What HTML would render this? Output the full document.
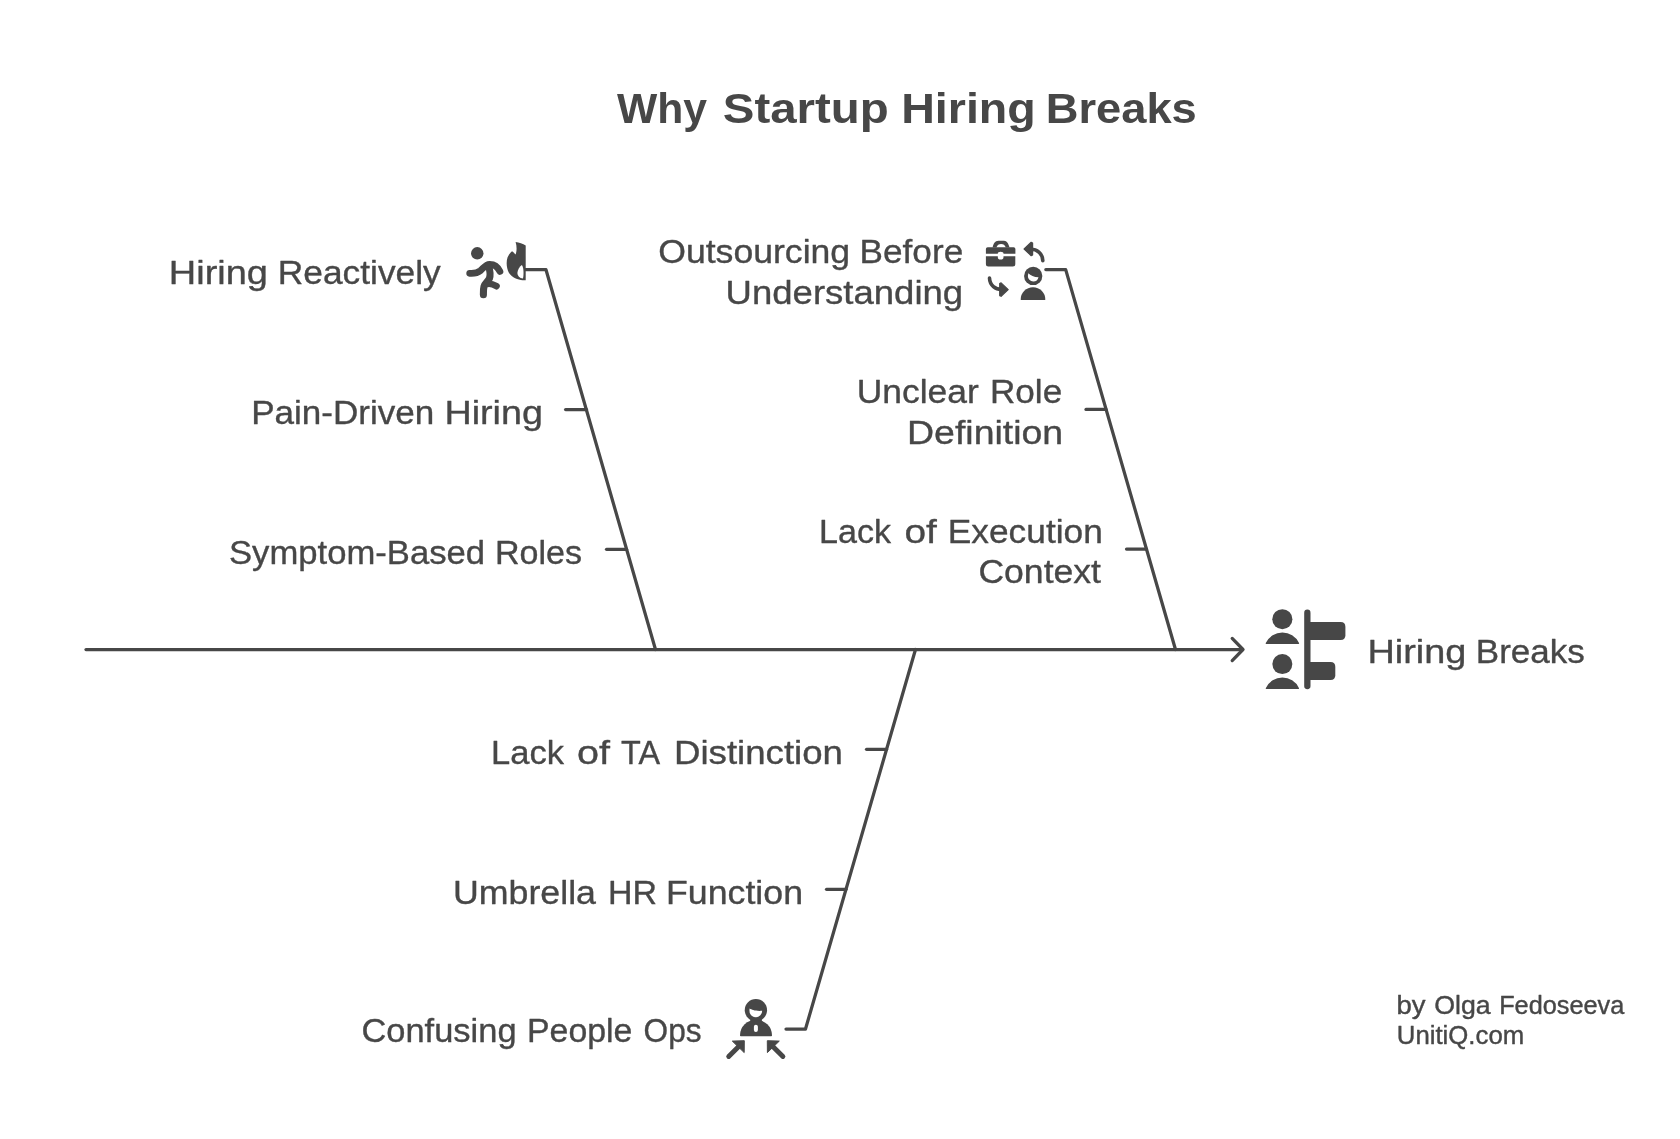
<!DOCTYPE html>
<html>
<head>
<meta charset="utf-8">
<title>Why Startup Hiring Breaks</title>
<style>
html,body{margin:0;padding:0;background:#ffffff;}
body{width:1680px;height:1139px;overflow:hidden;}
svg{display:block;will-change:transform;}
.t{font-family:"Liberation Sans",sans-serif;fill:#474747;}
.lbl{font-size:33px;stroke:#474747;stroke-width:0.35;stroke-linejoin:round;}
.ttl{font-size:42px;font-weight:bold;}
.sig{font-size:25px;stroke:#474747;stroke-width:0.4;stroke-linejoin:round;}
.ln{stroke:#474747;stroke-width:3.25;fill:none;stroke-linecap:round;stroke-linejoin:round;}
.ic{fill:#474747;}

</style>
</head>
<body>
<svg width="1680" height="1139" viewBox="0 0 1680 1139">
<!-- spine -->
<path class="ln" d="M86 649.5 H1242.5"/>
<path class="ln" d="M1232.2 638.4 L1243 649.5 L1232.2 660.6"/>
<!-- bones -->
<path class="ln" d="M525 269.7 H546 L655.5 649.5"/>
<path class="ln" d="M1045.8 269.6 H1065.7 L1175.5 649.5"/>
<path class="ln" d="M786 1029 H805.5 L915.5 649.5"/>
<!-- ticks -->
<path class="ln" d="M565.6 409.5 H586.5"/>
<path class="ln" d="M606.5 549.3 H626.5"/>
<path class="ln" d="M1086 409.4 H1106"/>
<path class="ln" d="M1126.5 549 H1146.5"/>
<path class="ln" d="M866.5 749.3 H886.5"/>
<path class="ln" d="M826.5 889.3 H846"/>
<!-- text -->
<text class="t ttl" x="617.00" y="122.5" textLength="90.00" lengthAdjust="spacingAndGlyphs">Why</text>
<text class="t ttl" x="722.80" y="122.5" textLength="166.00" lengthAdjust="spacingAndGlyphs">Startup</text>
<text class="t ttl" x="901.20" y="122.5" textLength="134.60" lengthAdjust="spacingAndGlyphs">Hiring</text>
<text class="t ttl" x="1045.80" y="122.5" textLength="151.00" lengthAdjust="spacingAndGlyphs">Breaks</text>
<text class="t lbl" x="168.80" y="283.9" textLength="99.20" lengthAdjust="spacingAndGlyphs">Hiring</text>
<text class="t lbl" x="277.80" y="283.9" textLength="163.00" lengthAdjust="spacingAndGlyphs">Reactively</text>
<text class="t lbl" x="251.20" y="423.6" textLength="183.20" lengthAdjust="spacingAndGlyphs">Pain-Driven</text>
<text class="t lbl" x="444.40" y="423.6" textLength="98.60" lengthAdjust="spacingAndGlyphs">Hiring</text>
<text class="t lbl" x="229.00" y="563.7" textLength="256.00" lengthAdjust="spacingAndGlyphs">Symptom-Based</text>
<text class="t lbl" x="495.00" y="563.7" textLength="87.00" lengthAdjust="spacingAndGlyphs">Roles</text>
<text class="t lbl" x="658.20" y="263.4" textLength="192.00" lengthAdjust="spacingAndGlyphs">Outsourcing</text>
<text class="t lbl" x="859.60" y="263.4" textLength="103.60" lengthAdjust="spacingAndGlyphs">Before</text>
<text class="t lbl" x="725.60" y="303.7" textLength="237.60" lengthAdjust="spacingAndGlyphs">Understanding</text>
<text class="t lbl" x="856.80" y="403.4" textLength="122.00" lengthAdjust="spacingAndGlyphs">Unclear</text>
<text class="t lbl" x="990.00" y="403.4" textLength="72.20" lengthAdjust="spacingAndGlyphs">Role</text>
<text class="t lbl" x="907.00" y="443.6" textLength="156.20" lengthAdjust="spacingAndGlyphs">Definition</text>
<text class="t lbl" x="819.00" y="543.3" textLength="72.00" lengthAdjust="spacingAndGlyphs">Lack</text>
<text class="t lbl" x="904.40" y="543.3" textLength="32.40" lengthAdjust="spacingAndGlyphs">of</text>
<text class="t lbl" x="947.80" y="543.3" textLength="155.00" lengthAdjust="spacingAndGlyphs">Execution</text>
<text class="t lbl" x="978.40" y="583.3" textLength="122.60" lengthAdjust="spacingAndGlyphs">Context</text>
<text class="t lbl" x="491.00" y="763.7" textLength="73.00" lengthAdjust="spacingAndGlyphs">Lack</text>
<text class="t lbl" x="577.00" y="763.7" textLength="33.00" lengthAdjust="spacingAndGlyphs">of</text>
<text class="t lbl" x="621.00" y="763.7" textLength="39.00" lengthAdjust="spacingAndGlyphs">TA</text>
<text class="t lbl" x="674.00" y="763.7" textLength="169.00" lengthAdjust="spacingAndGlyphs">Distinction</text>
<text class="t lbl" x="453.00" y="903.7" textLength="143.00" lengthAdjust="spacingAndGlyphs">Umbrella</text>
<text class="t lbl" x="608.00" y="903.7" textLength="49.00" lengthAdjust="spacingAndGlyphs">HR</text>
<text class="t lbl" x="666.00" y="903.7" textLength="137.00" lengthAdjust="spacingAndGlyphs">Function</text>
<text class="t lbl" x="361.40" y="1042.4" textLength="155.20" lengthAdjust="spacingAndGlyphs">Confusing</text>
<text class="t lbl" x="527.00" y="1042.4" textLength="105.40" lengthAdjust="spacingAndGlyphs">People</text>
<text class="t lbl" x="643.60" y="1042.4" textLength="58.00" lengthAdjust="spacingAndGlyphs">Ops</text>
<text class="t lbl" x="1367.40" y="663.3" textLength="99.00" lengthAdjust="spacingAndGlyphs">Hiring</text>
<text class="t lbl" x="1475.80" y="663.3" textLength="109.00" lengthAdjust="spacingAndGlyphs">Breaks</text>
<text class="t sig" x="1396.60" y="1013.6" textLength="29.00" lengthAdjust="spacingAndGlyphs">by</text>
<text class="t sig" x="1434.20" y="1013.6" textLength="56.40" lengthAdjust="spacingAndGlyphs">Olga</text>
<text class="t sig" x="1499.20" y="1013.6" textLength="125.00" lengthAdjust="spacingAndGlyphs">Fedoseeva</text>
<text class="t sig" x="1396.80" y="1043.8" textLength="127.40" lengthAdjust="spacingAndGlyphs">UnitiQ.com</text>
<!-- icon: running person + flame -->
<g>
<circle class="ic" cx="477.25" cy="253.3" r="6.2"/>
<path d="M469.7 273.3 C474 273.6 477.5 273 480.5 270.6 C483.5 268 485.8 264.4 489.5 264.3 C494 264.2 497.8 266.8 499.9 271.4" stroke="#474747" stroke-width="6.8" fill="none" stroke-linecap="round" stroke-linejoin="round"/>
<path d="M488.6 266 C490 270.5 490.8 275 489.4 278.6 C488 281.6 485 283 484 286.5 C483.3 289 483.4 292 483.4 294.8" stroke="#474747" stroke-width="7.1" fill="none" stroke-linecap="round" stroke-linejoin="round"/>
<path d="M487 284 Q491 283 496.5 286.2" stroke="#474747" stroke-width="6.6" fill="none" stroke-linecap="round" stroke-linejoin="round"/>
<path class="ic" d="M515.6 242 C519 242.5 523 243.5 525.7 245.5 L525.7 280.2 L522.6 280.2 C518 280 512 277.5 509 273 C506.5 268.5 506 262 507.5 257.5 C508.5 255 510.5 252.5 512.1 251.3 C513.5 252 514.5 253.5 515.6 254.6 C516.8 251.5 517 246.5 515.6 242 Z"/>
<path fill="#ffffff" d="M521.8 265.1 C519.5 267 517.5 270 517.4 273 C517.4 276 519.5 278 523 278.6 C523.6 276 523.6 272 523.4 270 C523.2 268 522.6 266 521.8 265.1 Z"/>
</g>

<!-- icon: briefcase / arrows / person -->
<g>
<path class="ic" d="M985.9 249 Q985.9 247.2 987.7 247.2 L1013.6 247.2 Q1015.4 247.2 1015.4 249 L1015.4 253.8 L1003.5 253.8 L1003.5 253.5 A2.85 1.8 0 0 0 997.8 253.5 L997.8 253.8 L985.9 253.8 Z"/>
<path class="ic" d="M985.9 256.3 L997.8 256.3 L997.8 257 A2.85 2.6 0 0 0 1003.5 257 L1003.5 256.3 L1015.3 256.3 L1015.3 263.9 Q1015.3 266.4 1012.8 266.4 L988.4 266.4 Q985.9 266.4 985.9 263.9 Z"/>
<path class="ic" fill-rule="evenodd" d="M992.6 247.6 C993.4 244 994.8 240.8 998.5 240.8 L1004 240.8 C1007 240.8 1008.5 244 1009.6 247.6 Z M996.4 247.6 C997.3 245.2 998.8 244.1 1001.1 244.1 C1003.4 244.1 1004.9 245.2 1005.8 247.6 Z"/>
<g>
<path class="ic" d="M1024.1 249 L1031.2 242.3 L1032.6 243 L1032.6 255 L1031.2 255.7 Z" stroke="#474747" stroke-width="1.2" stroke-linejoin="round"/>
<path d="M1031 249.2 C1036.5 249.2 1042.6 253 1042.8 260.6" stroke="#474747" stroke-width="3.6" fill="none" stroke-linecap="round"/>
</g>
<g transform="rotate(180 1016.15 269.3)">
<path class="ic" d="M1024.1 249 L1031.2 242.3 L1032.6 243 L1032.6 255 L1031.2 255.7 Z" stroke="#474747" stroke-width="1.2" stroke-linejoin="round"/>
<path d="M1031 249.2 C1036.5 249.2 1042.6 253 1042.8 260.6" stroke="#474747" stroke-width="3.6" fill="none" stroke-linecap="round"/>
</g>
<circle class="ic" cx="1033.2" cy="275.95" r="9.15"/>
<path fill="#ffffff" d="M1028.3 273.3 C1030.5 275.5 1034 277.2 1038.5 277.3 A5.35 5.35 0 0 1 1033.2 281.5 A5.35 5.35 0 0 1 1027.87 276 Z"/>
<path class="ic" d="M1020.7 299.5 A12.3 12.3 0 0 1 1045.3 299.5 Q1045.3 300.1 1044.7 300.1 L1021.3 300.1 Q1020.7 300.1 1020.7 299.5 Z"/>
</g>

<!-- icon: hiring breaks -->
<g>
<circle class="ic" cx="1282.35" cy="619.2" r="10.05"/>
<path class="ic" d="M1266.3 643.9 Q1265.2 643.9 1265.9 642.8 A18.3 18.3 0 0 1 1298.9 642.8 Q1299.6 643.9 1298.5 643.9 Z"/>
<circle class="ic" cx="1282.35" cy="664.1" r="10"/>
<path class="ic" d="M1266.3 689 Q1265.2 689 1265.9 687.9 A18.3 18.3 0 0 1 1298.9 687.9 Q1299.6 689 1298.5 689 Z"/>
<rect class="ic" x="1304.2" y="609.5" width="6.3" height="79.7" rx="3.15"/>
<path class="ic" d="M1309 622 L1340.7 622 Q1345.4 622 1345.4 626.7 L1345.4 635.3 Q1345.4 640 1340.7 640 L1309 640 Z"/>
<path class="ic" d="M1309 662.1 L1330.6 662.1 Q1335.3 662.1 1335.3 666.8 L1335.3 675.2 Q1335.3 679.9 1330.6 679.9 L1309 679.9 Z"/>
</g>

<!-- icon: people ops -->
<g>
<circle class="ic" cx="755.9" cy="1010.2" r="11.15"/>
<path class="ic" d="M750.6 1019 L761.7 1019 L762 1021.5 L750 1021.5 Z"/>
<path class="ic" d="M740 1035.4 A16 15.6 0 0 1 772 1035.4 Q772 1036.2 771.2 1036.2 L740.8 1036.2 Q740 1036.2 740 1035.4 Z"/>
<path fill="#ffffff" d="M749.6 1008.6 C752 1010 755 1011.2 762.2 1010.8 A6.45 6.45 0 0 1 755.85 1017.3 A6.45 6.45 0 0 1 749.42 1010.3 Z"/>
<rect fill="#ffffff" x="753.9" y="1024.8" width="4" height="7.2" rx="2"/>
<path class="ic" d="M732.3 1041.1 L744.3 1040.7 L744.2 1052.6 Z" stroke="#474747" stroke-width="1" stroke-linejoin="round"/>
<path d="M728.7 1056.5 L740.5 1044.8" stroke="#474747" stroke-width="4.9" stroke-linecap="round"/>
<path class="ic" d="M779.3 1041.1 L767.3 1040.7 L767.4 1052.6 Z" stroke="#474747" stroke-width="1" stroke-linejoin="round"/>
<path d="M782.9 1056.5 L771.1 1044.8" stroke="#474747" stroke-width="4.9" stroke-linecap="round"/>
</g>

</svg>
</body>
</html>
